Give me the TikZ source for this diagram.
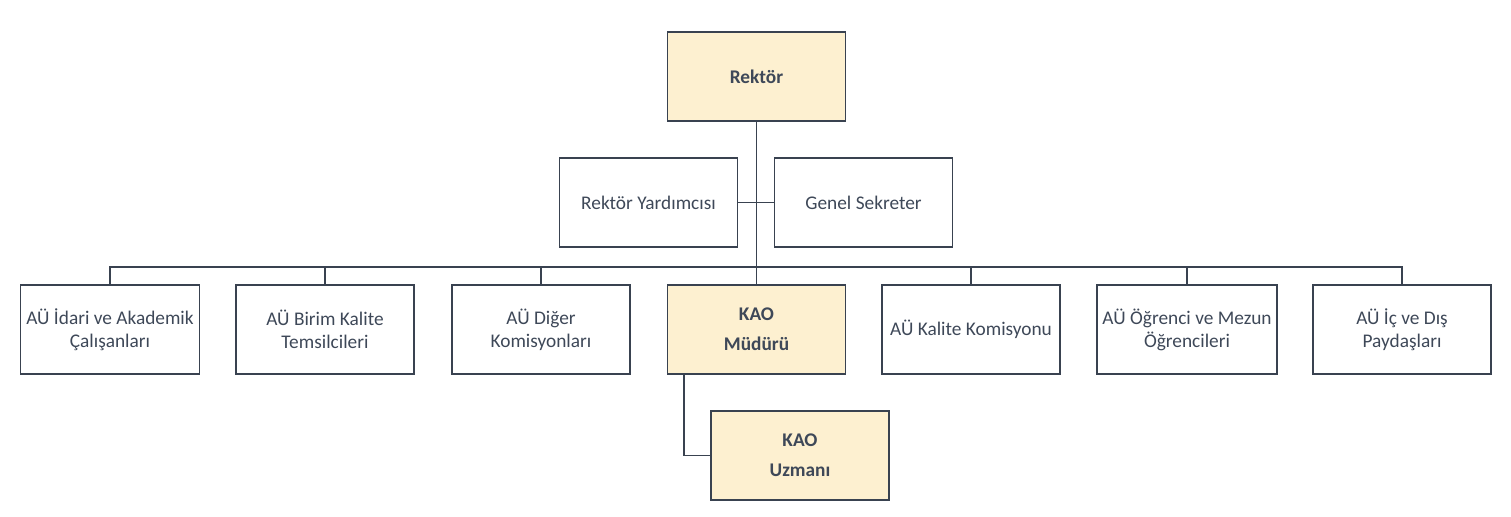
\documentclass[tikz,border=0pt]{standalone}
\usepackage{fontspec}
\setmainfont{Carlito}
\usepackage{tikz}
\usetikzlibrary{calc}
\definecolor{kutu}{HTML}{FDF0D0}
\definecolor{cizgi}{HTML}{394250}
\definecolor{yazi}{HTML}{3E4858}

\begin{document}
\begin{tikzpicture}[x=0.02cm,y=-0.02cm,
  birim/.style={draw=cizgi,line width=1.1pt,minimum width=3.56cm,minimum height=1.78cm,
    align=center,text=yazi,font=\fontsize{11}{13}\selectfont},
  yonetim/.style={birim,fill=kutu,font=\fontsize{11}{17}\selectfont\bfseries},
  hat/.style={draw=cizgi,line width=1.1pt}]
  \useasboundingbox (0,0) rectangle (1511,517);
  \node[yonetim] (rektor) at (756.5,76.5) {Rektör};
  \node[birim] (yardimci) at (648.5,202.5) {Rektör Yardımcısı};
  \node[birim] (sekreter) at (863.5,202.5) {Genel Sekreter};
  \node[birim] (calisan) at (110,329.5) {AÜ İdari ve Akademik\\Çalışanları};
  \node[birim] (temsilci) at (325,329.5) {AÜ Birim Kalite\\Temsilcileri};
  \node[birim] (komisyon) at (541,329.5) {AÜ Diğer\\Komisyonları};
  \node[yonetim] (mudur) at (756.5,329.5) {KAO\\Müdürü};
  \node[birim] (kalite) at (971,329.5) {AÜ Kalite Komisyonu};
  \node[birim] (ogrenci) at (1187,329.5) {AÜ Öğrenci ve Mezun\\Öğrencileri};
  \node[birim] (paydas) at (1402,329.5) {AÜ İç ve Dış\\Paydaşları};
  \node[yonetim] (uzman) at (800,455.5) {KAO\\Uzmanı};
  \coordinate (bus) at (756.5,267);
  \draw[hat] (rektor.south) -- (mudur.north);
  \draw[hat] (yardimci.east) -- (sekreter.west);
  \draw[hat] (calisan.north) |- (bus) -| (paydas.north);
  \foreach \n in {temsilci,komisyon,kalite,ogrenci}
    \draw[hat] (\n.north) -- (\n.north |- bus);
  \draw[hat] ($(mudur.south west)+(17,0)$) |- (uzman.west);
\end{tikzpicture}
\end{document}
